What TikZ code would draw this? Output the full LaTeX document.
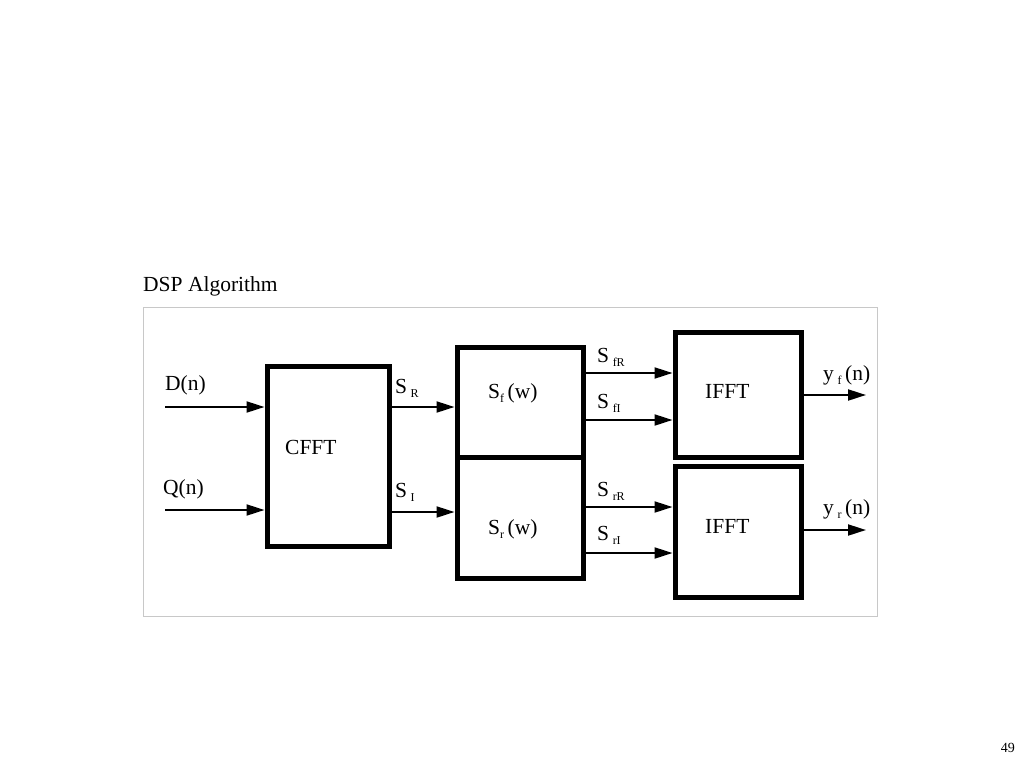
\documentclass[tikz,border=0pt]{standalone}
\usepackage{fontspec}
\setmainfont{Liberation Serif}
\usetikzlibrary{arrows.meta}
\newcommand{\subtxt}[1]{\raisebox{-4pt}{\fontsize{12}{12}\selectfont #1}}
\begin{document}
\begin{tikzpicture}[x=1pt,y=-1pt,
  blk/.style={draw,line width=5pt,inner sep=0pt,minimum width=#1},
  arr/.style={line width=2pt,-{Triangle[length=18pt,width=11pt]}},
  lbl/.style={font=\fontsize{21.5}{23}\selectfont,inner sep=0pt,anchor=base west},
  txt/.style={font=\fontsize{21.5}{23}\selectfont,inner sep=0pt}]
\useasboundingbox (0,0) rectangle (1024,768);
\node[txt,anchor=base west] (title) at (143,291) {DSP Algorithm};
\node[txt,anchor=base east] (page) at (1015,752) {\fontsize{14}{16}\selectfont 49};
\draw[draw={rgb,255:red,200;green,200;blue,200},line width=1pt] (143,307) rectangle (877,616);
% boxes
\node[blk=122pt,minimum height=180pt] (cfft) at (328,456) {};
\node[blk=126pt,minimum height=110pt] (sf) at (520,402) {};
\node[blk=126pt,minimum height=121pt] (sr) at (520,517.5) {};
\node[blk=126pt,minimum height=125pt] (if1) at (738,394.5) {};
\node[blk=126pt,minimum height=131pt] (if2) at (738,531.5) {};
% box texts
\node[lbl] (tcfft) at (285,454) {CFFT};
\node[lbl] (tsf) at (488,398) {S\subtxt{f}\,(w)};
\node[lbl] (tsr) at (488,534) {S\subtxt{r}\,(w)};
\node[lbl] (tif1) at (705,398) {IFFT};
\node[lbl] (tif2) at (705,533) {IFFT};
% input coordinates
\coordinate (din) at (165,407);
\coordinate (qin) at (165,510);
\coordinate (yfo) at (866,395);
\coordinate (yro) at (866,530);
% arrows
\draw[arr] (din) -- (din -| cfft.west);
\draw[arr] (qin) -- (qin -| cfft.west);
\draw[arr] (cfft.east |- 0,407) coordinate (sr0) -- (sr0 -| sf.west);
\draw[arr] (cfft.east |- 0,512) coordinate (si0) -- (si0 -| sr.west);
\draw[arr] (sf.east |- 0,373) coordinate (a1) -- (a1 -| if1.west);
\draw[arr] (sf.east |- 0,420) coordinate (a2) -- (a2 -| if1.west);
\draw[arr] (sr.east |- 0,507) coordinate (a3) -- (a3 -| if2.west);
\draw[arr] (sr.east |- 0,553) coordinate (a4) -- (a4 -| if2.west);
\draw[arr] (if1.east |- yfo) -- (yfo);
\draw[arr] (if2.east |- yro) -- (yro);
% labels
\node[lbl] (ld) at (165,390) {D(n)};
\node[lbl] (lq) at (163,494) {Q(n)};
\node[lbl] (lsr) at (395,393) {S\,\subtxt{R}};
\node[lbl] (lsi) at (395,497) {S\,\subtxt{I}};
\node[lbl] (lsfr) at (597,362) {S\,\subtxt{fR}};
\node[lbl] (lsfi) at (597,408) {S\,\subtxt{fI}};
\node[lbl] (lsrr) at (597,496) {S\,\subtxt{rR}};
\node[lbl] (lsri) at (597,540) {S\,\subtxt{rI}};
\node[lbl] (lyf) at (823,380) {y\,\subtxt{f}\,(n)};
\node[lbl] (lyr) at (823,514) {y\,\subtxt{r}\,(n)};
\end{tikzpicture}
\end{document}
